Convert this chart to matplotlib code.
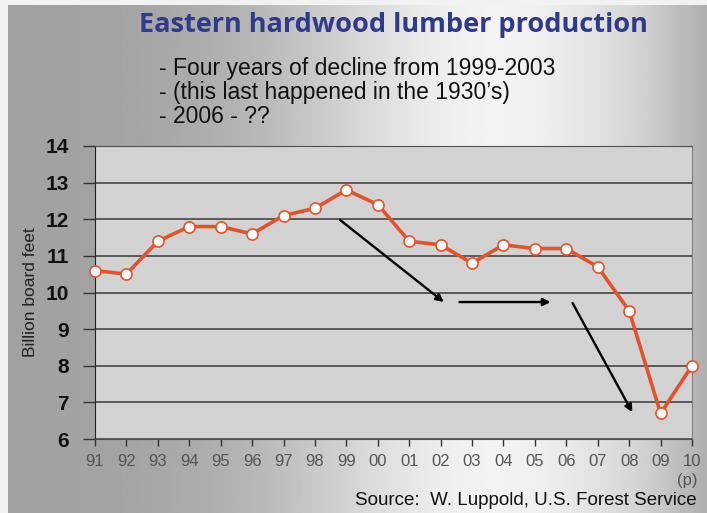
import numpy as np
import matplotlib.pyplot as plt

years = ['91', '92', '93', '94', '95', '96', '97', '98', '99', '00',
         '01', '02', '03', '04', '05', '06', '07', '08', '09', '10']
production = [10.6, 10.5, 11.4, 11.8, 11.8, 11.6, 12.1, 12.3, 12.8, 12.4,
              11.4, 11.3, 10.8, 11.3, 11.2, 11.2, 10.7, 9.5, 6.7, 8.0]
notes = ['- Four years of decline from 1999-2003',
         '- (this last happened in the 1930\u2019s)',
         '- 2006 - ??']
# arrows (start x, start y, end x, end y) in data units
arrows = [(7.8, 11.98, 11.1, 9.74),
          (11.6, 9.74, 14.5, 9.74),
          (15.2, 9.71, 17.1, 6.73)]

fig = plt.figure(figsize=(7.07, 5.13), dpi=100)

# slide background: gray gradient, lighter in the middle
bg = fig.add_axes([0, 0, 1, 1], zorder=-10)
xs = np.linspace(0, 1, 400)
shade = 0.63 + 0.32 * np.exp(-((xs - 0.70) / 0.30) ** 2)
shade = shade - 0.06 * np.clip((xs - 0.9) / 0.1, 0, 1)
img = np.tile(shade, (50, 1))
bg.imshow(img, cmap='gray', vmin=0, vmax=1, aspect='auto', extent=[0, 1, 0, 1])
bg.axvspan(0, 0.011, color='#f2f2f2', lw=0)
bg.axhspan(0.99, 1, color='#f2f2f2', lw=0)
bg.set_xlim(0, 1)
bg.set_ylim(0, 1)
bg.axis('off')

ax = fig.add_axes([0.1344, 0.1442, 0.8444, 0.5712])
ax.set_facecolor('#d2d2d2')
x = np.arange(len(years))
ax.plot(x, production, color='#e2522b', lw=2.6, marker='o', markersize=8,
        markerfacecolor='white', markeredgecolor='#e2522b', markeredgewidth=1.2,
        zorder=5, clip_on=False)

for x0, y0, x1, y1 in arrows:
    ax.annotate('', xy=(x1, y1), xytext=(x0, y0),
                arrowprops=dict(arrowstyle='-|>', color='black', lw=1.7,
                                mutation_scale=11, shrinkA=0, shrinkB=0))

ax.set_xlim(0, len(years) - 1)
ax.set_ylim(6, 14)
ax.set_yticks(range(6, 15))
ax.set_xticks(x)
ax.set_xticklabels(years, color='#555555', fontsize=12, family='Liberation Sans')
ax.set_yticklabels([str(v) for v in range(6, 15)], fontsize=15, fontweight='bold',
                   family='Liberation Sans', color='#111111')
ax.grid(axis='y', color='#505050', lw=1.3)
ax.set_axisbelow(True)
ax.tick_params(axis='x', length=5, width=1, color='#333333', pad=6)
ax.tick_params(axis='y', length=9, width=1, color='#333333', pad=10)
ax.spines['top'].set_color('#505050')
ax.spines['right'].set_color('#808080')
ax.spines['left'].set_color('#222222')
ax.spines['bottom'].set_color('#505050')
ax.set_ylabel('Billion board feet', fontsize=12.5, family='Liberation Sans',
              labelpad=5, color='#222222')

fig.text(0.986, 0.064, '(p)', ha='right', va='center', fontsize=12,
         color='#555555', family='Liberation Sans')
fig.text(0.557, 0.951, 'Eastern hardwood lumber production', ha='center', va='center',
         fontsize=19.5, fontweight='bold', color='#2f3a8a', family='Open Sans')
for i, line in enumerate(notes):
    fig.text(0.225, 0.867 - i * 0.0475, line, ha='left', va='center',
             fontsize=16.5, color='#111111', family='Liberation Sans')
fig.text(0.986, 0.025, 'Source:  W. Luppold, U.S. Forest Service', ha='right',
         va='center', fontsize=13.5, color='#111111', family='Liberation Sans')

fig.savefig('out.png', dpi=100)
